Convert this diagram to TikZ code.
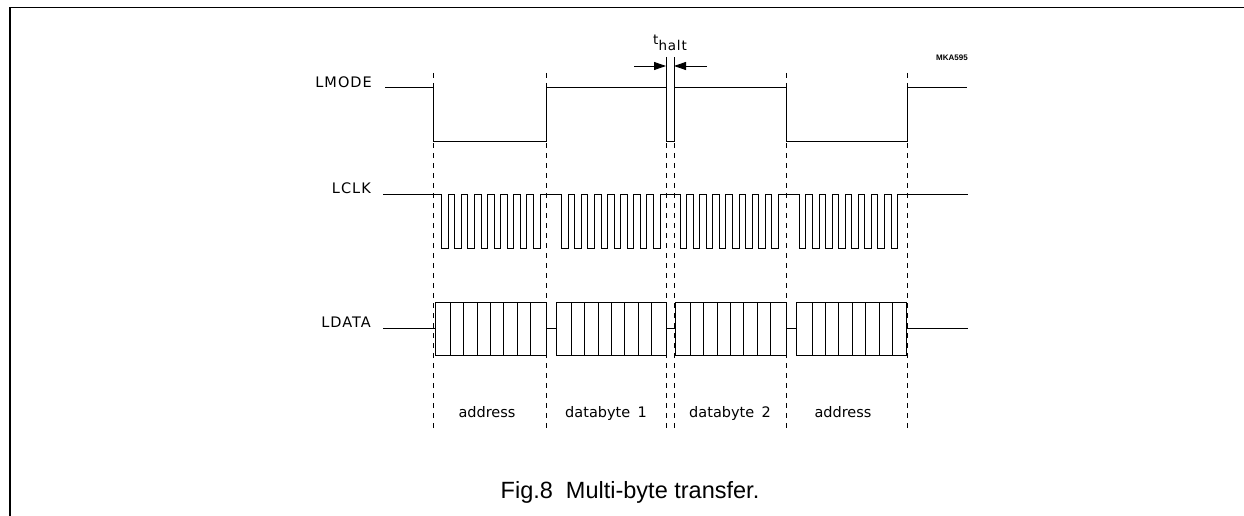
\documentclass[tikz,border=0pt]{standalone}
\usepackage{fontspec}
\setmainfont{Liberation Sans}
\newfontfamily\plotfont{DejaVu Sans}
\newfontfamily\plotwide[LetterSpace=7]{DejaVu Sans}
\usetikzlibrary{arrows.meta}
\begin{document}
\begin{tikzpicture}[x=1pt,y=-1pt,
  sig/.style={line width=0.9pt,line join=miter},
  guide/.style={line width=0.9pt,dash pattern=on 5pt off 5pt},
  frameline/.style={line width=1.8pt},
  siglabel/.style={font=\plotwide\fontsize{14.5}{15}\selectfont,anchor=east,inner sep=0pt},
  phase/.style={font=\plotfont\fontsize{14.5}{15}\selectfont,anchor=base,inner sep=0pt},
  dimarrow/.style={line width=0.9pt,-{Triangle[length=12pt,width=8pt]}}
]
\useasboundingbox (0,0) rectangle (1244,516);
% frame
\draw[frameline] (10,516) -- (10,7.5) -- (1244,7.5);

% guide lines
\foreach \x in {433,546,666,674,786,907}
  \draw[guide] (\x,73) -- (\x,430);

% signal names
\node[siglabel] (lmode) at (372,82) {LMODE};
\node[siglabel] (lclk)  at (371,188) {LCLK};
\node[siglabel] (ldata) at (371,322) {LDATA};

% LMODE
\draw[sig] (385,87) -- (433,87) -- (433,141) -- (546,141) -- (546,87) -- (666,87);
\coordinate (hA) at (666,57);
\coordinate (hB) at (674,57);
\draw[sig] (hA) -- (666,141) -- (674,141) -- (hB);
\draw[sig] (674,87) -- (786,87) -- (786,141) -- (907,141) -- (907,87) -- (967,87);

% t_halt dimension
\coordinate (hAl) at (666,66);
\coordinate (hBr) at (674,66);
\coordinate (aL) at (634,66);
\coordinate (aR) at (707,66);
\draw[dimarrow] (aL) -- (hAl);
\draw[dimarrow] (aR) -- (hBr);
\node[font=\plotfont\fontsize{13.5}{14}\selectfont,anchor=base west,inner sep=0pt] (thalt) at (653,45)
  {t\raisebox{-6pt}{\addfontfeatures{LetterSpace=6}halt}};

\node[font=\bfseries\fontsize{8}{8}\selectfont,anchor=base,inner sep=0pt] (mka) at (952,61) {MKA595};

% LCLK
\draw[sig] (383,194.3)
  \foreach \s in {441.7,561.7,680,799.3}{
    \foreach \k in {0,...,7}{
      -- ({\s+\k*13.1},194.3) -- ({\s+\k*13.1},248.7)
      -- ({\s+\k*13.1+6.6},248.7) -- ({\s+\k*13.1+6.6},194.3)
    }
  } -- (968,194.3);

% LDATA
\foreach \a/\b in {383/435,546/556,666/675,786/796.7,906.7/968}
  \draw[sig] (\a,328) -- (\b,328);
\foreach \a/\b in {435/546,556/666,675/786,796.7/906.7}{
  \draw[sig] (\a,302.3) rectangle (\b,355);
  \foreach \k in {0,...,6}
    \draw[sig] ({\a+15.5+\k*13.35},302.3) -- ({\a+15.5+\k*13.35},355);
}

% phase labels
\node[phase] (p1) at (487,417) {address};
\node[phase] (p2) at (606,417) {databyte\hspace{0.5em}1};
\node[phase] (p3) at (730,417) {databyte\hspace{0.5em}2};
\node[phase] (p4) at (843,417) {address};

% caption
\node[font=\fontsize{23.5}{26}\selectfont,anchor=base,inner sep=0pt] (cap) at (630,498)
  {Fig.8\hspace{0.556em}Multi-byte transfer.};
\end{tikzpicture}
\end{document}
